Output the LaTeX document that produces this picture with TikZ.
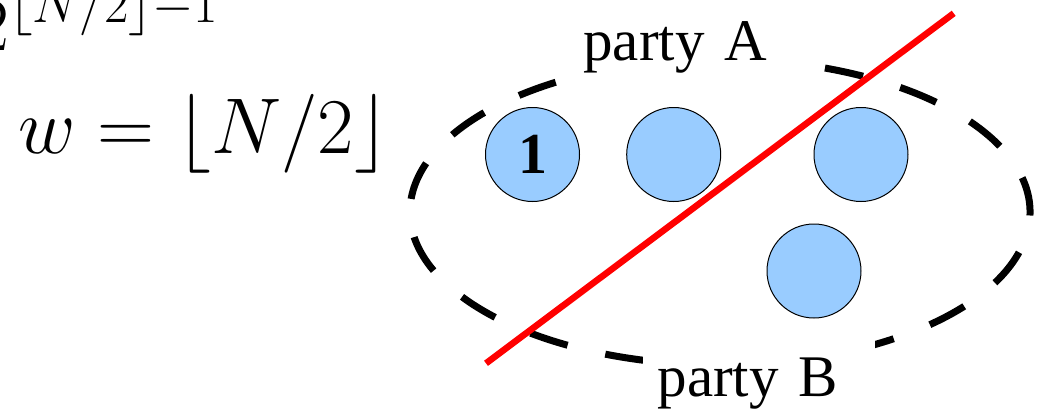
\RequirePackage{fix-cm}
\documentclass[tikz,border=0pt]{standalone}
\usepackage{fontspec}
\newfontfamily\lserif{Liberation Serif}
\definecolor{nodeblue}{HTML}{99CCFF}
\begin{document}
\begin{tikzpicture}[x=1pt,y=-1pt,
  person/.style={circle, draw=black, line width=1pt, fill=nodeblue,
    minimum size=94pt, inner sep=0pt, font=\lserif\bfseries\fontsize{58}{60}\selectfont},
  party/.style={fill=white, inner xsep=0pt, inner ysep=14pt, align=left,
    anchor=base west, font=\lserif\fontsize{59}{60}\selectfont},
  formula/.style={inner sep=0pt, anchor=base west},
  group/.style={draw=black, line width=7pt, dash pattern=on 39pt off 38.75pt},
  cut/.style={draw=red, line width=6.5pt}]
\useasboundingbox (0,0) rectangle (1037,408);

\node[formula, font=\fontsize{76}{80}\selectfont] (pow) at (-26,50) {$2^{\lfloor N/2\rfloor-1}$};
\node[formula, font=\fontsize{79}{82}\selectfont] (w) at (18,153) {$w=\lfloor N/2\rfloor$};

\coordinate (ec) at (720,212);
\draw[group] (ec) ++(60:310 and 153)
  arc[start angle=60, end angle=420, x radius=310, y radius=153];

\node[party, text width=240pt] (pa) at (570,60.7) {\hspace*{13.2pt}party A};
\node[party, text width=232pt, inner ysep=20pt] (pb) at (643,396) {\hspace*{14.3pt}party B};

\node[person] (c1) at (532.5,154.5) {1};
\node[person] (c2) at (673.7,154.5) {};
\node[person] (c3) at (861,154.5) {};
\node[person] (c4) at (814,271) {};

\coordinate (r1) at (486,363.3);
\coordinate (r2) at (953.7,13.3);
\draw[cut] (r1) -- (r2);
\end{tikzpicture}
\end{document}
